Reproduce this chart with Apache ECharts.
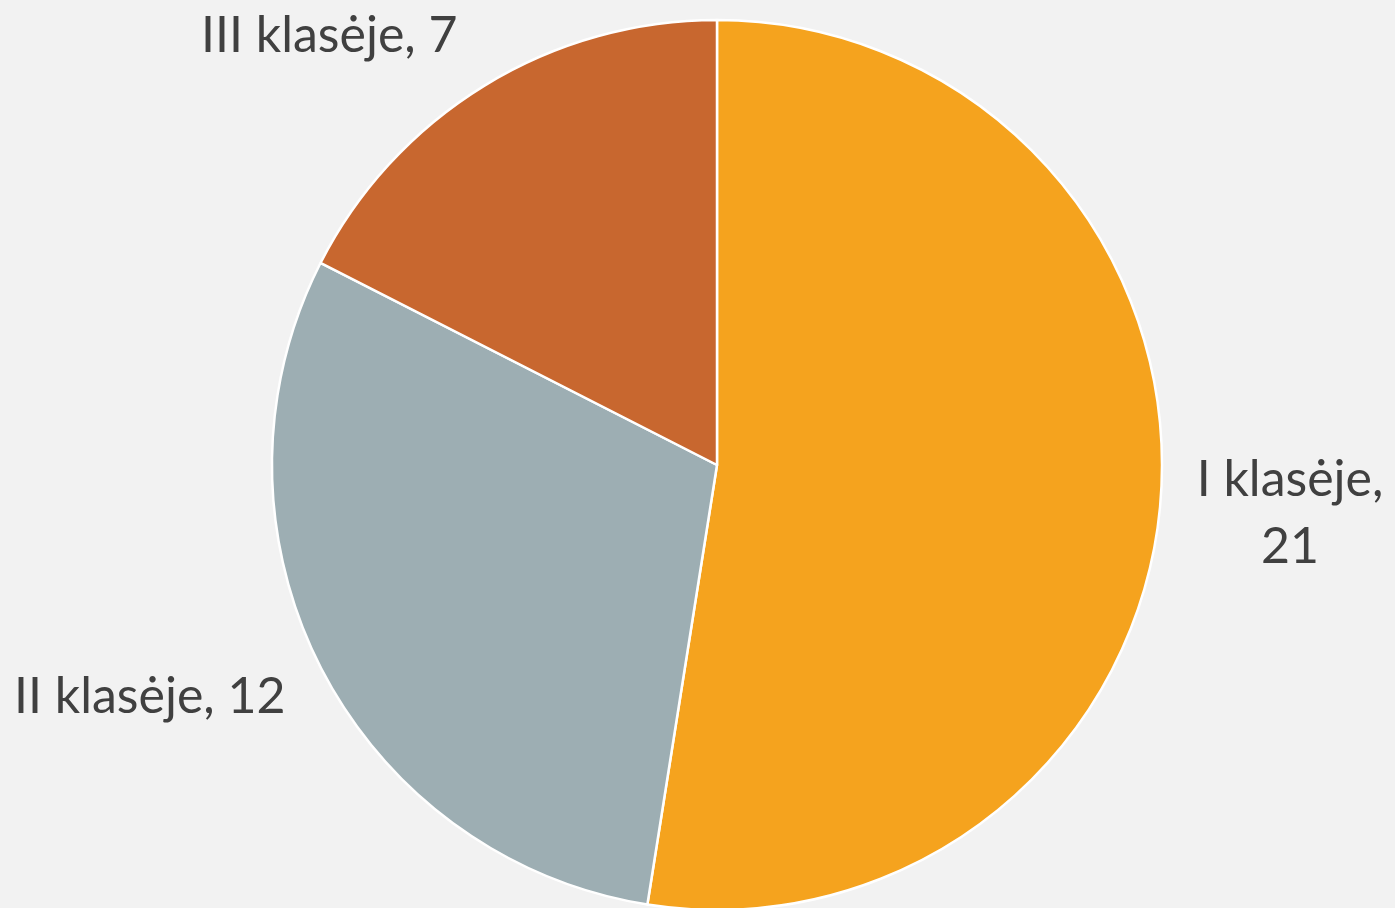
<!DOCTYPE html>
<html>
<head>
<meta charset="utf-8">
<script src="https://cdn.jsdelivr.net/npm/echarts@6/dist/echarts.min.js"></script>
<style>
  html, body { margin: 0; padding: 0; background: #f2f2f2; }
  #chart { width: 1395px; height: 908px; }
</style>
</head>
<body>
<div id="chart"></div>
<script>
// duomenys
const categories = ['I klasėje', 'II klasėje', 'III klasėje'];
const values = [21, 12, 7];
const colors = ['#f5a31e', '#9daeb3', '#c8672f'];

// etikečių vietos (x, y, lygiavimas)
const labelSpots = [
  { x: 1290, y: 513, align: 'center' },
  { x: 14, y: 697, align: 'left' },
  { x: 201, y: 36, align: 'left' }
];

const chart = echarts.init(document.getElementById('chart'));

const option = {
  backgroundColor: '#f2f2f2',
  animation: false,
  series: [
    {
      type: 'pie',
      center: [717, 465],
      radius: [0, 445],
      startAngle: 90,
      clockwise: true,
      data: categories.map((name, i) => ({
        name: name,
        value: values[i],
        itemStyle: { color: colors[i] }
      })),
      itemStyle: {
        borderColor: '#ffffff',
        borderWidth: 2.5
      },
      label: {
        show: true,
        position: 'outside',
        fontFamily: 'Lato',
        fontSize: 50,
        color: '#404040',
        lineHeight: 67,
        align: 'center',
        overflow: 'none',
        formatter: params => params.dataIndex === 0
          ? params.name + ',\n' + params.value
          : params.name + ', ' + params.value
      },
      labelLine: { show: false },
      labelLayout: params => {
        const s = labelSpots[params.dataIndex];
        return { x: s.x, y: s.y, align: s.align, verticalAlign: 'middle' };
      },
      emphasis: { disabled: true }
    }
  ]
};

chart.setOption(option);
</script>
</body>
</html>
